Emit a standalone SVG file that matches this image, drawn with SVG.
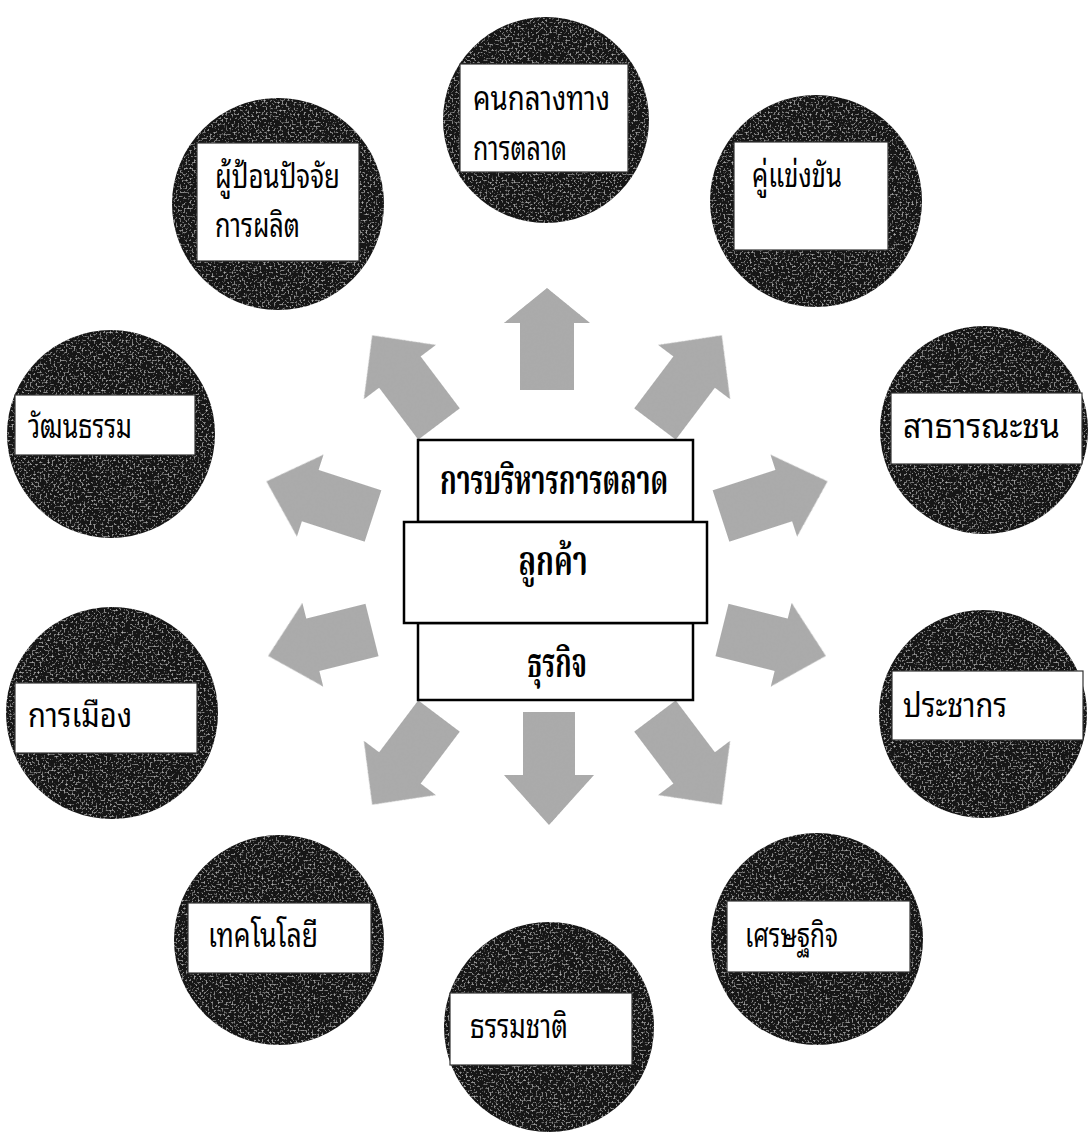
<svg xmlns="http://www.w3.org/2000/svg" width="1090" height="1134" viewBox="0 0 1090 1134">
<style>
.disc{fill:#161616;filter:url(#grainLight)}
.lbl{fill:#fff;stroke:#333;stroke-width:1.2}
.t{font-family:"Noto Sans Thai Looped","Noto Serif Thai","Noto Sans Thai","DejaVu Sans",sans-serif;font-size:33px;fill:#000}
.arrow{fill:#ababab;filter:url(#grainDark)}
.cbox{fill:#fff;stroke:#000;stroke-width:2.5}
.ct{font-family:"Noto Serif Thai","Noto Sans Thai","Liberation Serif",serif;font-size:40px;font-weight:bold;fill:#000;text-anchor:middle}
</style>
<defs>
<filter id="grainLight" x="0" y="0" width="1" height="1">
<feTurbulence type="fractalNoise" baseFrequency="0.5" numOctaves="3" seed="7" result="n"/>
<feColorMatrix in="n" type="matrix" values="0 0 0 0 0.5  0 0 0 0 0.5  0 0 0 0 0.5  3.0 0 0 0 -1.6" result="spk"/>
<feComposite in="spk" in2="SourceGraphic" operator="in" result="spk2"/>
<feMerge><feMergeNode in="SourceGraphic"/><feMergeNode in="spk2"/></feMerge>
</filter>
<filter id="grainDark" x="0" y="0" width="1" height="1">
<feTurbulence type="fractalNoise" baseFrequency="0.45" numOctaves="3" seed="3" result="n"/>
<feColorMatrix in="n" type="matrix" values="0 0 0 0 0.4  0 0 0 0 0.4  0 0 0 0 0.4  3.0 0 0 0 -1.35" result="spk"/>
<feComposite in="spk" in2="SourceGraphic" operator="in" result="spk2"/>
<feMerge><feMergeNode in="SourceGraphic"/><feMergeNode in="spk2"/></feMerge>
</filter>
</defs>
<rect width="1090" height="1134" fill="#fff"/>
<g id="connectors">
<path class="arrow" d="M0,-27 L67,-27 L67,-43 L102,0 L67,43 L67,27 L0,27 Z" transform="translate(547,390) rotate(-90)"/>
<path class="arrow" d="M0,-26 L65,-26 L65,-45 L111,0 L65,45 L65,26 L0,26 Z" transform="translate(439,424) rotate(-127)"/>
<path class="arrow" d="M0,-26 L65,-26 L65,-45 L111,0 L65,45 L65,26 L0,26 Z" transform="translate(655,424) rotate(-53)"/>
<path class="arrow" d="M0,-27 L66,-27 L66,-43 L112,0 L66,43 L66,27 L0,27 Z" transform="translate(373,516) rotate(-162)"/>
<path class="arrow" d="M0,-27 L66,-27 L66,-43 L112,0 L66,43 L66,27 L0,27 Z" transform="translate(721,516) rotate(-18)"/>
<path class="arrow" d="M0,-27 L61,-27 L61,-43 L107,0 L61,43 L61,27 L0,27 Z" transform="translate(372,630) rotate(166)"/>
<path class="arrow" d="M0,-27 L61,-27 L61,-43 L107,0 L61,43 L61,27 L0,27 Z" transform="translate(722,630) rotate(14)"/>
<path class="arrow" d="M0,-26 L65,-26 L65,-45 L111,0 L65,45 L65,26 L0,26 Z" transform="translate(439,716) rotate(127)"/>
<path class="arrow" d="M0,-26 L65,-26 L65,-45 L111,0 L65,45 L65,26 L0,26 Z" transform="translate(655,716) rotate(53)"/>
<path class="arrow" d="M0,-26 L63,-26 L63,-45 L113,0 L63,45 L63,26 L0,26 Z" transform="translate(549,712) rotate(90)"/>
</g>
<g id="center">
<rect class="cbox" x="418" y="440" width="275" height="82"/>
<rect class="cbox" x="418" y="623" width="275" height="77"/>
<rect class="cbox" x="404" y="522" width="303" height="101"/>
<text class="ct" x="554" y="494" textLength="228" lengthAdjust="spacingAndGlyphs">การบริหารการตลาด</text>
<text class="ct" x="553" y="575" textLength="69" lengthAdjust="spacingAndGlyphs">ลูกค้า</text>
<text class="ct" x="557" y="677" textLength="60" lengthAdjust="spacingAndGlyphs">ธุรกิจ</text>
</g>
<g id="n-intermediary">
<circle class="disc" cx="546" cy="120" r="103"/>
<rect class="lbl" x="460" y="64" width="168" height="108"/>
<text class="t" x="473" y="110" textLength="137" lengthAdjust="spacingAndGlyphs">คนกลางทาง</text>
<text class="t" x="473" y="160" textLength="94" lengthAdjust="spacingAndGlyphs">การตลาด</text>
</g>
<g id="n-supplier">
<circle class="disc" cx="278" cy="204" r="106"/>
<rect class="lbl" x="197" y="143" width="162" height="118"/>
<text class="t" x="215" y="188" textLength="125" lengthAdjust="spacingAndGlyphs">ผู้ป้อนปัจจัย</text>
<text class="t" x="215" y="237" textLength="85" lengthAdjust="spacingAndGlyphs">การผลิต</text>
</g>
<g id="n-competitor">
<circle class="disc" cx="816" cy="201" r="106"/>
<rect class="lbl" x="734" y="142" width="154" height="108"/>
<text class="t" x="752" y="187" textLength="90" lengthAdjust="spacingAndGlyphs">คู่แข่งขัน</text>
</g>
<g id="n-culture">
<circle class="disc" cx="111" cy="434" r="104"/>
<rect class="lbl" x="15" y="395" width="180" height="60"/>
<text class="t" x="28" y="438" textLength="104" lengthAdjust="spacingAndGlyphs">วัฒนธรรม</text>
</g>
<g id="n-public">
<circle class="disc" cx="984" cy="430" r="104"/>
<rect class="lbl" x="891" y="393" width="191" height="71"/>
<text class="t" x="903" y="438" textLength="157" lengthAdjust="spacingAndGlyphs">สาธารณะชน</text>
</g>
<g id="n-politics">
<circle class="disc" cx="112" cy="713" r="106"/>
<rect class="lbl" x="15" y="683" width="182" height="70"/>
<text class="t" x="28" y="727" textLength="104" lengthAdjust="spacingAndGlyphs">การเมือง</text>
</g>
<g id="n-population">
<circle class="disc" cx="983" cy="714" r="104"/>
<rect class="lbl" x="892" y="671" width="191" height="69"/>
<text class="t" x="903" y="717" textLength="104" lengthAdjust="spacingAndGlyphs">ประชากร</text>
</g>
<g id="n-technology">
<circle class="disc" cx="279" cy="940" r="105"/>
<rect class="lbl" x="188" y="903" width="183" height="70"/>
<text class="t" x="208" y="947" textLength="110" lengthAdjust="spacingAndGlyphs">เทคโนโลยี</text>
</g>
<g id="n-economy">
<circle class="disc" cx="817" cy="939" r="106"/>
<rect class="lbl" x="727" y="901" width="183" height="71"/>
<text class="t" x="745" y="947" textLength="93" lengthAdjust="spacingAndGlyphs">เศรษฐกิจ</text>
</g>
<g id="n-nature">
<circle class="disc" cx="549" cy="1027" r="105"/>
<rect class="lbl" x="450" y="993" width="182" height="72"/>
<text class="t" x="470" y="1038" textLength="98" lengthAdjust="spacingAndGlyphs">ธรรมชาติ</text>
</g>
</svg>
